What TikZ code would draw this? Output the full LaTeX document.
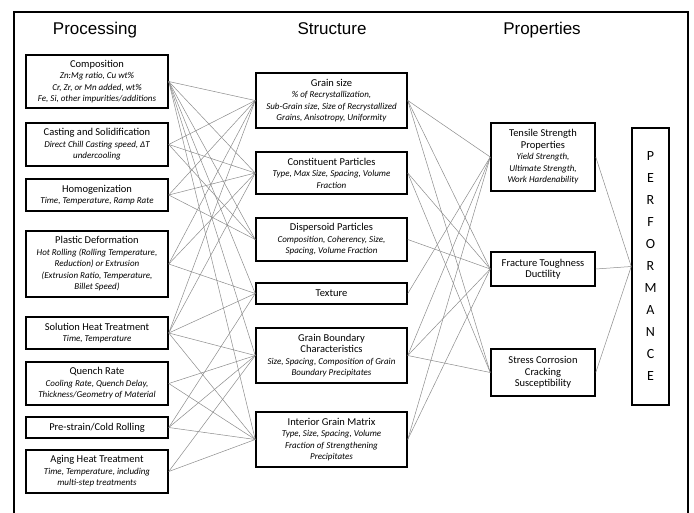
\documentclass[tikz,border=0pt]{standalone}
\usepackage{fontspec}
\setmainfont{Carlito}
\newfontfamily\ttlfont{Liberation Sans}
\newcommand\ita[1]{{\itshape\fontsize{9}{10.5}\selectfont #1}}
\begin{document}
\begin{tikzpicture}[x=1pt,y=-1pt,
  box/.style={draw=black, line width=1.5pt, inner sep=1pt, align=center,
    font=\fontsize{10.5}{11.5}\selectfont},
  conn/.style={draw=black!45, line width=0.5pt},
  ttl/.style={font=\ttlfont\fontsize{17}{20}\selectfont, inner sep=0pt, anchor=base}]
\useasboundingbox (0,0) rectangle (694,512);
\clip (0,0) rectangle (694,512);
\fill[white] (0,0) rectangle (694,512);
\draw[line width=1.5pt] (14,530) -- (14,12) -- (688,12) -- (688,530);

\node[ttl] (tp) at (95,34) {Processing};
\node[ttl] (ts) at (332,34) {Structure};
\node[ttl] (tq) at (542,34) {Properties};

% Processing column
\node[box, minimum width=142pt, minimum height=53pt] (comp) at (97,81.5)
  {Composition\\ \ita{Zn:Mg ratio, Cu wt\%}\\ \ita{Cr, Zr, or Mn added, wt\%}\\ \ita{Fe, Si, other impurities/additions}};
\node[box, minimum width=142pt, minimum height=43pt] (cast) at (97,144.5)
  {Casting and Solidification\\ \ita{Direct Chill Casting speed, ΔT}\\ \ita{undercooling}};
\node[box, minimum width=142pt, minimum height=32pt] (homog) at (97,195)
  {Homogenization\\ \ita{Time, Temperature, Ramp Rate}};
\node[box, minimum width=142pt, minimum height=66pt] (plast) at (97,264)
  {Plastic Deformation\\ \ita{Hot Rolling (Rolling Temperature,}\\ \ita{Reduction) or Extrusion}\\ \ita{(Extrusion Ratio, Temperature,}\\ \ita{Billet Speed)}};
\node[box, minimum width=142pt, minimum height=32pt] (solut) at (97,333)
  {Solution Heat Treatment\\ \ita{Time, Temperature}};
\node[box, minimum width=142pt, minimum height=43pt] (quench) at (97,383.5)
  {Quench Rate\\ \ita{Cooling Rate, Quench Delay,}\\ \ita{Thickness/Geometry of Material}};
\node[box, minimum width=142pt, minimum height=21pt] (prestr) at (97,427.5)
  {Pre-strain/Cold Rolling};
\node[box, minimum width=142pt, minimum height=43pt] (aging) at (97,471.5)
  {Aging Heat Treatment\\ \ita{Time, Temperature, including}\\ \ita{multi-step treatments}};

% Structure column
\node[box, minimum width=151pt, minimum height=55pt] (grain) at (331.5,100.5)
  {Grain size\\ \ita{\% of Recrystallization,}\\ \ita{Sub-Grain size, Size of Recrystallized}\\ \ita{Grains, Anisotropy, Uniformity}};
\node[box, minimum width=151pt, minimum height=42pt] (const) at (331.5,173)
  {Constituent Particles\\ \ita{Type, Max Size, Spacing, Volume}\\ \ita{Fraction}};
\node[box, minimum width=151pt, minimum height=43pt] (disp) at (331.5,239.5)
  {Dispersoid Particles\\ \ita{Composition, Coherency, Size,}\\ \ita{Spacing, Volume Fraction}};
\node[box, minimum width=151pt, minimum height=21pt] (tex) at (331.5,293.5)
  {Texture};
\node[box, minimum width=151pt, minimum height=55pt] (gb) at (331.5,355.5)
  {Grain Boundary\\ Characteristics\\ \ita{Size, Spacing, Composition of Grain}\\ \ita{Boundary Precipitates}};
\node[box, minimum width=151pt, minimum height=55pt] (inter) at (331.5,439.5)
  {Interior Grain Matrix\\ \ita{Type, Size, Spacing, Volume}\\ \ita{Fraction of Strengthening}\\ \ita{Precipitates}};

% Properties column
\node[box, minimum width=104pt, minimum height=68pt] (tens) at (543,157)
  {Tensile Strength\\ Properties\\ \ita{Yield Strength,}\\ \ita{Ultimate Strength,}\\ \ita{Work Hardenability}};
\node[box, minimum width=104pt, minimum height=34pt] (frac) at (543,269)
  {Fracture Toughness\\ Ductility};
\node[box, minimum width=104pt, minimum height=47pt] (scc) at (543,372.5)
  {Stress Corrosion\\ Cracking\\ Susceptibility};

% Performance
\node[box, minimum width=37pt, minimum height=277pt,
  font=\fontsize{14}{22}\selectfont] (perf) at (650.5,266.5)
  {P\\E\\R\\F\\O\\R\\M\\A\\N\\C\\E};

% connectors processing -> structure
\foreach \a/\b in {comp/grain, comp/const, comp/disp, comp/tex, comp/gb, comp/inter,
  cast/grain, cast/const, cast/disp,
  homog/grain, homog/const, homog/disp,
  plast/grain, plast/const, plast/tex,
  solut/grain, solut/const, solut/tex, solut/gb, solut/inter,
  quench/gb, quench/inter,
  prestr/tex, prestr/gb, prestr/inter,
  aging/gb, aging/inter}
  \draw[conn] (\a.east) -- (\b.west);

% structure -> properties
\foreach \a/\b in {grain/tens, grain/frac, grain/scc,
  const/frac, const/scc,
  disp/frac,
  tex/tens,
  gb/tens, gb/frac, gb/scc,
  inter/tens, inter/frac}
  \draw[conn] (\a.east) -- (\b.west);

% properties -> performance
\foreach \a in {tens, frac, scc}
  \draw[conn] (\a.east) -- (perf.west);
\end{tikzpicture}
\end{document}
